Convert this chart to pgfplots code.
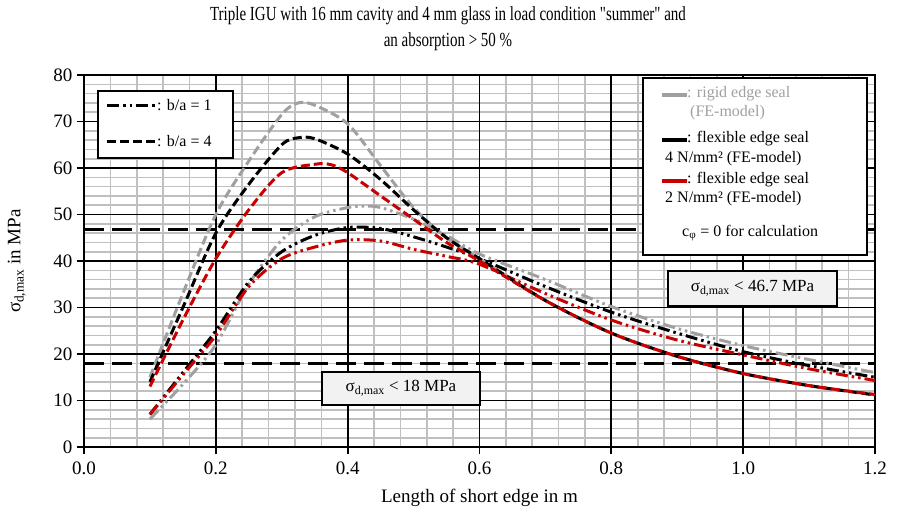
\documentclass[border=0pt]{standalone}
\usepackage{pgfplots}
\pgfplotsset{compat=1.18}
\usepackage{graphicx}
\usepackage{fontspec}
\setmainfont{Liberation Serif}
\definecolor{rgray}{RGB}{160,160,160}
\definecolor{rred}{RGB}{200,0,0}
\definecolor{mgrid}{RGB}{192,192,192}
\definecolor{boxfill}{RGB}{242,242,242}
\tikzset{
  ba4/.style={line width=3bp, dash pattern=on 9bp off 4bp},
  ba1/.style={line width=3bp, dash pattern=on 12bp off 4bp on 2.5bp off 4bp on 2.5bp off 4bp},
}
\begin{document}
\begin{tikzpicture}
\path[use as bounding box] (-84bp,-65bp) rectangle (813bp,447bp);
\begin{axis}[
  at={(0,0)}, anchor=south west,
  scale only axis, width=791bp, height=372bp,
  xmin=0, xmax=1.2, ymin=0, ymax=80,
  xtick={0,0.2,0.4,0.6,0.8,1.0,1.2}, ytick={0,10,...,80},
  minor x tick num=4, minor y tick num=4,
  grid=minor,
  minor grid style={mgrid, line width=1.6bp},
  extra x ticks={0.2,0.4,0.6,0.8,1.0}, extra y ticks={10,20,30,40,50,60,70},
  extra x tick labels={}, extra y tick labels={},
  extra tick style={grid=major, major grid style={black, line width=1.8bp}},
  axis line style={black, line width=1.8bp},
  tick style={black, line width=1.8bp},
  tick align=outside, major tick length=7bp, minor tick length=0pt,
  xtick pos=left, ytick pos=left,
  /pgf/number format/assume math mode=true,
  xticklabel style={yshift=-4bp, /pgf/number format/fixed, /pgf/number format/fixed zerofill, /pgf/number format/precision=1},
  tick label style={font=\fontsize{19bp}{22bp}\selectfont},
  yticklabel style={xshift=-1bp},
  xlabel={Length of short edge in m},
  ylabel={σ\textsubscript{d,max} in MPa},
  label style={font=\fontsize{19bp}{22bp}\selectfont},
  xlabel style={at={(axis description cs:0.5,-0.137)}, anchor=center},
  ylabel style={at={(axis description cs:-0.085,0.5)}, anchor=center},
  clip=true,
]
% limit lines
\addplot[black, line width=3bp, dash pattern=on 20bp off 8bp] coordinates {(0,46.7) (1.2,46.7)};
\addplot[black, line width=3bp, dash pattern=on 20bp off 8bp] coordinates {(0,18) (1.2,18)};
% b/a = 1 (dash dot)
\addplot[rgray, ba1, smooth] coordinates {
(0.1,6) (0.15,13.5) (0.2,22) (0.25,35) (0.3,44.5) (0.35,49.5) (0.4,51.5) (0.425,51.8) (0.45,51.5) (0.5,49) (0.55,45.5) (0.6,41.5) (0.7,36) (0.8,30.2) (0.9,25.5) (1.0,21.8) (1.1,18.8) (1.2,16)};
\addplot[black, ba1, smooth] coordinates {
(0.1,7) (0.15,16) (0.2,25) (0.25,35.5) (0.3,42) (0.35,45.5) (0.4,47.2) (0.45,47) (0.5,45.2) (0.55,43) (0.6,40.5) (0.7,34.5) (0.8,29) (0.9,24.5) (1.0,20.5) (1.1,17.5) (1.2,15)};
\addplot[rred, ba1, smooth] coordinates {
(0.1,7) (0.15,15.5) (0.2,24) (0.25,34.5) (0.3,40.5) (0.35,43) (0.4,44.5) (0.45,44.3) (0.5,42.5) (0.55,41) (0.6,39.3) (0.7,33) (0.8,27.3) (0.9,23) (1.0,19.8) (1.1,16.8) (1.2,14.3)};
% b/a = 4 (dashed)
\addplot[rgray, ba4, smooth] coordinates {
(0.1,15) (0.15,33) (0.2,50) (0.25,61.5) (0.3,71.5) (0.325,74) (0.35,73.5) (0.4,69.5) (0.45,60.5) (0.5,51.5) (0.55,45) (0.6,40.5) (0.7,31.5) (0.8,24.5) (0.9,19.5) (1.0,15.8) (1.1,13.2) (1.2,11.2)};
\addplot[black, ba4, smooth] coordinates {
(0.1,14) (0.15,30) (0.2,46) (0.25,56.5) (0.3,65) (0.325,66.5) (0.35,66.3) (0.4,63) (0.45,57.5) (0.5,51) (0.55,45) (0.6,40.5) (0.7,31.5) (0.8,24.5) (0.9,19.5) (1.0,15.8) (1.1,13.2) (1.2,11.2)};
\addplot[rred, ba4, smooth] coordinates {
(0.1,13) (0.15,27.3) (0.2,40.5) (0.25,51) (0.3,59) (0.35,60.8) (0.375,60.7) (0.4,59) (0.45,54) (0.5,49) (0.55,44) (0.6,40) (0.7,31.5) (0.8,24.5) (0.9,19.5) (1.0,15.8) (1.1,13.2) (1.2,11.3)};
\end{axis}
% title
\node[align=center, font=\fontsize{20bp}{26bp}\selectfont] at (364bp,418bp)
  {\scalebox{0.75}[1]{Triple IGU with 16 mm cavity and 4 mm glass in load condition \textquotedbl summer\textquotedbl\ and}\\
   \scalebox{0.75}[1]{an absorption > 50 \%}};
% legend 1
\draw[black, line width=2bp, fill=white] (14bp,289bp) rectangle (149bp,356bp);
\draw[black, ba1] (23bp,341bp) -- (72bp,341bp);
\draw[black, ba4] (23bp,305bp) -- (72bp,305bp);
\node[anchor=west, inner sep=0pt, font=\fontsize{16bp}{19bp}\selectfont] at (73bp,342bp) {: b/a = 1};
\node[anchor=west, inner sep=0pt, font=\fontsize{16bp}{19bp}\selectfont] at (73bp,306bp) {: b/a = 4};
% legend 2
\draw[black, line width=2.5bp, fill=white] (559bp,192bp) rectangle (783bp,369bp);
\draw[rgray, line width=3.5bp] (578bp,352bp) -- (603bp,352bp);
\draw[black, line width=3.5bp] (578bp,307bp) -- (603bp,307bp);
\draw[rred, line width=3.5bp] (578bp,266bp) -- (603bp,266bp);
\begin{scope}[every node/.style={anchor=west, inner sep=0pt, font=\fontsize{16bp}{19bp}\selectfont}]
\node[text=rgray] at (603bp,353bp) {: rigid edge seal};
\node[text=rgray] at (606bp,334bp) {(FE-model)};
\node at (603bp,308bp) {: flexible edge seal};
\node at (581bp,288bp) {4 N/mm² (FE-model)};
\node at (603bp,267bp) {: flexible edge seal};
\node at (581bp,248bp) {2 N/mm² (FE-model)};
\node at (598bp,214bp) {c\textsubscript{φ} = 0 for calculation};
\end{scope}
% annotation boxes
\draw[black, line width=2bp, fill=boxfill] (238bp,42bp) rectangle (396bp,75bp);
\node[font=\fontsize{17bp}{20bp}\selectfont] at (317bp,58.5bp) {σ\textsubscript{d,max} < 18 MPa};
\draw[black, line width=2bp, fill=boxfill] (584bp,141bp) rectangle (753bp,176bp);
\node[font=\fontsize{17bp}{20bp}\selectfont] at (668.5bp,158.5bp) {σ\textsubscript{d,max} < 46.7 MPa};
\end{tikzpicture}
\end{document}
